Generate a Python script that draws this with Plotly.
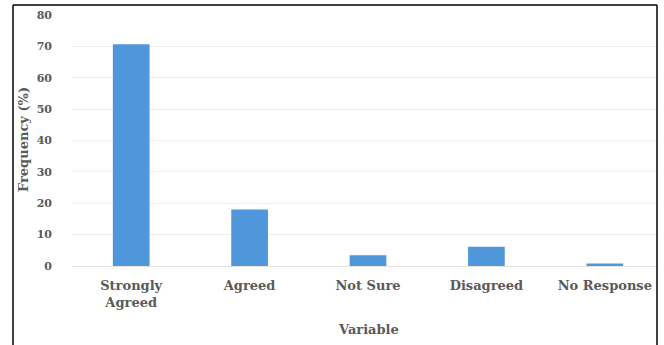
import plotly.graph_objects as go

categories = ["Strongly<br>Agreed", "Agreed", "Not Sure", "Disagreed", "No Response"]
frequency = [70.7, 18.0, 3.4, 6.1, 0.8]
y_ticks = [0, 10, 20, 30, 40, 50, 60, 70, 80]

W, H = 664, 345
ML, MR, MT, MB = 72, 0, 15, 79
PW = W - ML - MR
PH = H - MT - MB

def px_x(p):
    return (p - ML) / PW

def px_y(p):
    return (H - MB - p) / PH

font_family = "DejaVu Serif"
txt_color = "#5a5a5a"

fig = go.Figure(
    go.Bar(
        x=categories,
        y=frequency,
        marker=dict(color="#5096db", line=dict(width=0)),
        width=0.31,
    )
)

fig.update_layout(
    width=W,
    height=H,
    margin=dict(l=ML, r=MR, t=MT, b=MB, pad=0),
    paper_bgcolor="white",
    plot_bgcolor="white",
    showlegend=False,
    xaxis=dict(
        showgrid=False,
        showline=False,
        ticks="",
        tickfont=dict(family=font_family, size=13, color=txt_color, weight="bold"),
        ticklabelstandoff=10,
    ),
    yaxis=dict(
        range=[0, 80],
        tickvals=y_ticks,
        showgrid=True,
        gridcolor="#ededed",
        gridwidth=1,
        zeroline=True,
        zerolinecolor="#e6e2dc",
        zerolinewidth=1,
        showline=False,
        ticks="",
        tickfont=dict(family=font_family, size=11, color=txt_color, weight="bold"),
        ticklabelstandoff=19,
    ),
    annotations=[
        dict(
            text="Frequency (%)", xref="paper", yref="paper",
            x=px_x(23), y=px_y(140), textangle=-90, showarrow=False,
            xanchor="center", yanchor="middle",
            font=dict(family=font_family, size=13, color=txt_color, weight="bold"),
        ),
        dict(
            text="Variable", xref="paper", yref="paper",
            x=px_x(368), y=px_y(329), showarrow=False,
            xanchor="center", yanchor="middle",
            font=dict(family=font_family, size=13, color=txt_color, weight="bold"),
        ),
    ],
    shapes=[
        # clip region right of the frame
        dict(type="rect", xref="paper", yref="paper", layer="above",
             x0=px_x(658), x1=px_x(670), y0=px_y(350), y1=px_y(-5),
             fillcolor="white", line=dict(width=0)),
        # frame lines
        dict(type="line", xref="paper", yref="paper", layer="above",
             x0=px_x(13), x1=px_x(13), y0=px_y(5), y1=px_y(346),
             line=dict(color="black", width=1.5)),
        dict(type="line", xref="paper", yref="paper", layer="above",
             x0=px_x(13), x1=px_x(657), y0=px_y(5), y1=px_y(5),
             line=dict(color="black", width=1.5)),
        dict(type="line", xref="paper", yref="paper", layer="above",
             x0=px_x(657), x1=px_x(657), y0=px_y(5), y1=px_y(346),
             line=dict(color="black", width=1.5)),
    ],
)

fig.write_html("out.html")
